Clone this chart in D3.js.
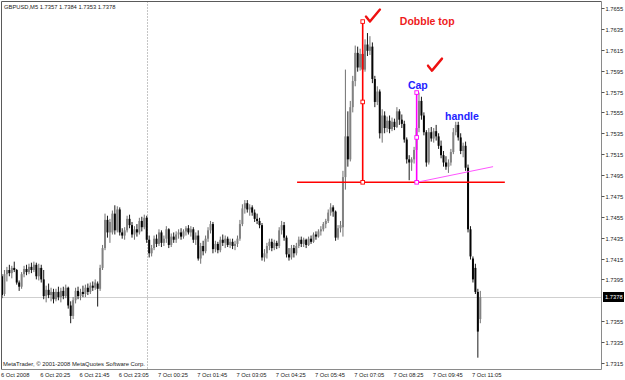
<!DOCTYPE html>
<html>
<head>
<meta charset="utf-8">
<script src="https://d3js.org/d3.v7.min.js"></script>
<style>
  body { margin: 0; background: #fff; }
  svg { display: block; }
</style>
</head>
<body>
<script>
// GBPUSD M5, 6 Oct 2008 19:05 .. 7 Oct 2008 11:20
const opens = [
  1.7398,1.7381,1.7400,1.7404,1.7401,1.7406,1.7404,1.7392,1.7388,1.7400,
  1.7405,1.7402,1.7407,1.7404,1.7409,1.7398,1.7406,1.7395,1.7379,1.7385,
  1.7380,1.7383,1.7376,1.7383,1.7378,1.7384,1.7379,1.7387,1.7370,1.7360,
  1.7375,1.7384,1.7379,1.7383,1.7381,1.7387,1.7383,1.7389,1.7387,1.7391,
  1.7386,1.7406,1.7425,1.7452,1.7440,1.7440,1.7458,1.7442,1.7462,1.7440,
  1.7437,1.7442,1.7453,1.7447,1.7438,1.7443,1.7440,1.7451,1.7445,1.7454,
  1.7433,1.7420,1.7425,1.7434,1.7429,1.7440,1.7430,1.7434,1.7443,1.7428,
  1.7436,1.7433,1.7438,1.7440,1.7436,1.7441,1.7444,1.7440,1.7443,1.7433,
  1.7437,1.7415,1.7427,1.7422,1.7434,1.7442,1.7448,1.7424,1.7429,1.7423,
  1.7433,1.7430,1.7434,1.7428,1.7431,1.7427,1.7429,1.7434,1.7448,1.7463,
  1.7468,1.7462,1.7464,1.7459,1.7453,1.7451,1.7447,1.7416,1.7420,1.7427,
  1.7431,1.7425,1.7430,1.7427,1.7442,1.7447,1.7435,1.7419,1.7416,1.7425,
  1.7420,1.7427,1.7433,1.7429,1.7433,1.7428,1.7434,1.7431,1.7438,1.7436,
  1.7441,1.7443,1.7448,1.7451,1.7459,1.7464,1.7460,1.7435,1.7444,1.7445,
  1.7493,1.7532,1.7510,1.7560,1.7585,1.7612,1.7598,1.7611,1.7596,1.7620,
  1.7614,1.7618,1.7587,1.7565,1.7575,1.7535,1.7552,1.7540,1.7547,1.7539,
  1.7546,1.7541,1.7556,1.7548,1.7544,1.7529,1.7510,1.7507,1.7510,1.7519,
  1.7540,1.7566,1.7552,1.7536,1.7507,1.7536,1.7530,1.7537,1.7532,1.7523,
  1.7514,1.7507,1.7503,1.7507,1.7517,1.7536,1.7543,1.7531,1.7518,1.7523,
  1.7502,1.7443,1.7415,1.7406,1.7383,1.7357]
const highs = [
  1.7400,1.7404,1.7407,1.7409,1.7408,1.7412,1.7405,1.7394,1.7402,1.7408,
  1.7409,1.7410,1.7411,1.7412,1.7411,1.7410,1.7409,1.7404,1.7389,1.7391,
  1.7387,1.7386,1.7386,1.7388,1.7387,1.7388,1.7390,1.7388,1.7374,1.7378,
  1.7387,1.7388,1.7386,1.7389,1.7390,1.7391,1.7392,1.7393,1.7395,1.7393,
  1.7409,1.7428,1.7458,1.7456,1.7453,1.7461,1.7466,1.7465,1.7464,1.7444,
  1.7445,1.7456,1.7457,1.7450,1.7446,1.7448,1.7454,1.7455,1.7457,1.7456,
  1.7437,1.7428,1.7437,1.7438,1.7443,1.7442,1.7437,1.7446,1.7444,1.7439,
  1.7440,1.7441,1.7443,1.7444,1.7443,1.7446,1.7447,1.7446,1.7445,1.7440,
  1.7442,1.7430,1.7432,1.7437,1.7445,1.7451,1.7450,1.7432,1.7431,1.7436,
  1.7438,1.7437,1.7436,1.7434,1.7434,1.7432,1.7437,1.7452,1.7467,1.7471,
  1.7471,1.7467,1.7466,1.7462,1.7458,1.7454,1.7449,1.7424,1.7430,1.7434,
  1.7434,1.7433,1.7432,1.7445,1.7451,1.7450,1.7437,1.7425,1.7428,1.7428,
  1.7430,1.7436,1.7436,1.7435,1.7434,1.7436,1.7437,1.7440,1.7441,1.7443,
  1.7446,1.7450,1.7453,1.7462,1.7468,1.7466,1.7461,1.7447,1.7451,1.7499,
  1.7596,1.7556,1.7566,1.7590,1.7619,1.7618,1.7616,1.7615,1.7625,1.7631,
  1.7628,1.7622,1.7590,1.7580,1.7577,1.7558,1.7556,1.7551,1.7552,1.7550,
  1.7549,1.7560,1.7558,1.7553,1.7547,1.7531,1.7514,1.7512,1.7522,1.7543,
  1.7574,1.7570,1.7555,1.7538,1.7540,1.7541,1.7540,1.7543,1.7535,1.7528,
  1.7518,1.7513,1.7510,1.7520,1.7540,1.7546,1.7546,1.7535,1.7526,1.7527,
  1.7505,1.7446,1.7417,1.7410,1.7386,1.7384]
const lows = [
  1.7377,1.7379,1.7393,1.7398,1.7396,1.7402,1.7390,1.7384,1.7386,1.7397,
  1.7399,1.7400,1.7401,1.7402,1.7395,1.7394,1.7392,1.7376,1.7373,1.7377,
  1.7374,1.7372,1.7374,1.7375,1.7373,1.7376,1.7377,1.7367,1.7353,1.7357,
  1.7372,1.7376,1.7375,1.7378,1.7378,1.7380,1.7381,1.7384,1.7385,1.7369,
  1.7384,1.7404,1.7423,1.7435,1.7430,1.7438,1.7438,1.7440,1.7437,1.7434,
  1.7433,1.7440,1.7444,1.7435,1.7433,1.7436,1.7438,1.7441,1.7443,1.7430,
  1.7416,1.7417,1.7423,1.7426,1.7427,1.7426,1.7427,1.7430,1.7425,1.7426,
  1.7430,1.7430,1.7434,1.7433,1.7434,1.7437,1.7438,1.7436,1.7430,1.7428,
  1.7413,1.7410,1.7418,1.7420,1.7431,1.7439,1.7420,1.7421,1.7420,1.7421,
  1.7427,1.7425,1.7426,1.7425,1.7424,1.7423,1.7426,1.7432,1.7446,1.7458,
  1.7459,1.7456,1.7456,1.7450,1.7448,1.7444,1.7413,1.7412,1.7415,1.7423,
  1.7422,1.7423,1.7424,1.7425,1.7438,1.7432,1.7416,1.7413,1.7414,1.7416,
  1.7418,1.7425,1.7426,1.7426,1.7425,1.7427,1.7429,1.7430,1.7433,1.7435,
  1.7437,1.7441,1.7444,1.7449,1.7456,1.7455,1.7432,1.7433,1.7440,1.7436,
  1.7481,1.7503,1.7508,1.7555,1.7580,1.7594,1.7595,1.7593,1.7594,1.7609,
  1.7610,1.7583,1.7560,1.7562,1.7530,1.7526,1.7535,1.7536,1.7535,1.7537,
  1.7538,1.7540,1.7543,1.7540,1.7526,1.7506,1.7490,1.7499,1.7506,1.7517,
  1.7536,1.7548,1.7533,1.7503,1.7505,1.7527,1.7526,1.7528,1.7520,1.7511,
  1.7503,1.7500,1.7497,1.7504,1.7515,1.7533,1.7528,1.7515,1.7512,1.7499,
  1.7440,1.7414,1.7392,1.7381,1.7320,1.7353]
const closes = [
  1.7380,1.7400,1.7404,1.7401,1.7406,1.7404,1.7392,1.7388,1.7400,1.7405,
  1.7402,1.7407,1.7404,1.7409,1.7398,1.7406,1.7395,1.7379,1.7385,1.7380,
  1.7383,1.7376,1.7383,1.7378,1.7384,1.7379,1.7387,1.7370,1.7360,1.7375,
  1.7384,1.7379,1.7383,1.7381,1.7387,1.7383,1.7389,1.7387,1.7392,1.7386,
  1.7406,1.7425,1.7452,1.7440,1.7450,1.7458,1.7442,1.7462,1.7440,1.7437,
  1.7442,1.7453,1.7447,1.7438,1.7443,1.7440,1.7451,1.7445,1.7454,1.7433,
  1.7420,1.7425,1.7434,1.7429,1.7440,1.7430,1.7434,1.7443,1.7428,1.7436,
  1.7433,1.7438,1.7440,1.7436,1.7441,1.7444,1.7440,1.7443,1.7433,1.7437,
  1.7415,1.7427,1.7422,1.7434,1.7442,1.7448,1.7424,1.7429,1.7423,1.7433,
  1.7430,1.7434,1.7428,1.7431,1.7427,1.7429,1.7434,1.7448,1.7463,1.7468,
  1.7462,1.7464,1.7459,1.7453,1.7451,1.7447,1.7416,1.7420,1.7427,1.7431,
  1.7425,1.7430,1.7427,1.7442,1.7447,1.7435,1.7419,1.7416,1.7425,1.7420,
  1.7427,1.7433,1.7429,1.7433,1.7428,1.7434,1.7431,1.7438,1.7436,1.7441,
  1.7443,1.7448,1.7451,1.7459,1.7464,1.7460,1.7435,1.7444,1.7447,1.7493,
  1.7532,1.7510,1.7560,1.7585,1.7612,1.7598,1.7611,1.7596,1.7620,1.7614,
  1.7618,1.7587,1.7565,1.7575,1.7535,1.7552,1.7540,1.7547,1.7539,1.7546,
  1.7541,1.7556,1.7548,1.7544,1.7529,1.7510,1.7507,1.7510,1.7519,1.7540,
  1.7566,1.7552,1.7536,1.7507,1.7536,1.7530,1.7537,1.7532,1.7523,1.7514,
  1.7507,1.7503,1.7507,1.7517,1.7536,1.7543,1.7531,1.7518,1.7523,1.7502,
  1.7443,1.7417,1.7395,1.7383,1.7345,1.7378]

const timeLabels = ["6 Oct 2008", "6 Oct 20:25", "6 Oct 21:45", "6 Oct 23:05", "7 Oct 00:25", "7 Oct 01:45",
  "7 Oct 03:05", "7 Oct 04:25", "7 Oct 05:45", "7 Oct 07:05", "7 Oct 08:25", "7 Oct 09:45", "7 Oct 11:05"]
const timeLabelBars = [0, 16, 32, 48, 64, 80, 96, 112, 128, 144, 160, 176, 192]
// 1.7375 is hidden behind the bid label, so it is left out
const priceTicks = [1.7315, 1.7335, 1.7355, 1.7395, 1.7415, 1.7435, 1.7455, 1.7475, 1.7495,
  1.7515, 1.7535, 1.7555, 1.7575, 1.7595, 1.7615, 1.7635, 1.7655]
const bidPrice = 1.7378
const daySeparatorBar = 59   // 7 Oct 00:00

// hand drawn objects (bar index, price)
const necklinePrice = 1.7488, necklineBars = [120.3, 205]
const topLeg = { bar: 147.05, prices: [1.7642, 1.7565, 1.7488] }
const capLeg = { bar: 169.05, prices: [1.7574, 1.7531, 1.7488] }
const handleTrend = [[169.05, 1.7488], [200.2, 1.7503]]
const checkMarks = [[150.0, 1.7642], [175.3, 1.7595]]
const notes = [
  { text: "Dobble top", bar: 162.2, price: 1.7639, color: "#ee1c1c" },
  { text: "Cap", bar: 165.5, price: 1.7577, color: "#2323ff" },
  { text: "handle", bar: 180.6, price: 1.7548, color: "#2323ff" }
]

const W = 625, H = 380
const plot = { left: 1.5, top: 1.5, right: 601.5, bottom: 369.5 }

const svg = d3.select("body").append("svg").attr("width", W).attr("height", H)
svg.append("rect").attr("width", W).attr("height", H).attr("fill", "#fff")

const x = d3.scaleLinear().domain([0, 244]).range([2, 600.5])
const y = d3.scaleLinear().domain([1.7315, 1.7655]).range([362.9, 8])

svg.append("clipPath").attr("id", "plotClip")
  .append("rect").attr("x", plot.left).attr("y", plot.top)
  .attr("width", plot.right - plot.left).attr("height", plot.bottom - plot.top)

const g = svg.append("g").attr("clip-path", "url(#plotClip)")

// day separator + bid line
g.append("line")
  .attr("x1", Math.round(x(daySeparatorBar)) + 0.5).attr("x2", Math.round(x(daySeparatorBar)) + 0.5)
  .attr("y1", plot.top).attr("y2", plot.bottom)
  .attr("stroke", "#8a8a8a").attr("stroke-dasharray", "1,2")
g.append("line")
  .attr("x1", plot.left).attr("x2", plot.right)
  .attr("y1", Math.round(y(bidPrice)) + 0.5).attr("y2", Math.round(y(bidPrice)) + 0.5)
  .attr("stroke", "#cfcfcf")

// candles
const bars = opens.map((o, i) => ({ i, o, h: highs[i], l: lows[i], c: closes[i] }))
const bullColor = "#828282", bearColor = "#050505"
const candle = g.append("g").selectAll("g").data(bars).join("g")
candle.append("line")
  .attr("x1", d => x(d.i)).attr("x2", d => x(d.i))
  .attr("y1", d => y(d.h)).attr("y2", d => y(d.l))
  .attr("stroke", d => d.c >= d.o ? "#707070" : "#1a1a1a")
  .attr("stroke-width", 1)
candle.append("rect")
  .attr("x", d => x(d.i) - 1).attr("width", 2)
  .attr("y", d => y(Math.max(d.o, d.c)))
  .attr("height", d => Math.max(1, Math.abs(y(d.o) - y(d.c))))
  .attr("fill", d => d.c >= d.o ? bullColor : bearColor)

// neckline
g.append("line")
  .attr("x1", x(necklineBars[0])).attr("x2", x(necklineBars[1]))
  .attr("y1", y(necklinePrice)).attr("y2", y(necklinePrice))
  .attr("stroke", "#ff0000").attr("stroke-width", 1.6)

// handle trend line
g.append("line")
  .attr("x1", x(handleTrend[0][0])).attr("y1", y(handleTrend[0][1]))
  .attr("x2", x(handleTrend[1][0])).attr("y2", y(handleTrend[1][1]))
  .attr("stroke", "#ff55ff").attr("stroke-width", 1)

const drawLeg = (leg, color) => {
  g.append("line")
    .attr("x1", x(leg.bar)).attr("x2", x(leg.bar))
    .attr("y1", y(leg.prices[0])).attr("y2", y(leg.prices[2]))
    .attr("stroke", color).attr("stroke-width", 1.6)
  g.selectAll(null).data(leg.prices).join("rect")
    .attr("x", x(leg.bar) - 1.8).attr("y", d => y(d) - 1.8)
    .attr("width", 3.6).attr("height", 3.6)
    .attr("fill", "#fff").attr("stroke", color).attr("stroke-width", 0.9)
}
drawLeg(topLeg, "#ff0000")
drawLeg(capLeg, "#ff00ff")

// check marks, anchored at their bottom vertex
g.selectAll(".check").data(checkMarks).join("path")
  .attr("class", "check")
  .attr("d", d => {
    const cx = x(d[0]), cy = y(d[1])
    return `M${cx - 4},${cy - 5} L${cx},${cy} L${cx + 10},${cy - 12}`
  })
  .attr("fill", "none").attr("stroke", "#ee1111").attr("stroke-width", 2.4)
  .attr("stroke-linecap", "round").attr("stroke-linejoin", "round")

g.selectAll(".note").data(notes).join("text")
  .attr("class", "note")
  .attr("x", d => x(d.bar)).attr("y", d => y(d.price))
  .attr("fill", d => d.color)
  .attr("font-family", "'Liberation Sans', Arial, sans-serif")
  .attr("font-weight", "bold").attr("font-size", "10.5px")
  .text(d => d.text)

// frame
svg.append("path")
  .attr("d", `M${plot.left},${plot.bottom} V${plot.top} H${plot.right}`)
  .attr("fill", "none").attr("stroke", "#5a5a5a")
svg.append("path")
  .attr("d", `M${plot.left},${plot.bottom} H${plot.right} V${plot.top}`)
  .attr("fill", "none").attr("stroke", "#8a8a8a")

const axisFont = "'Liberation Sans', Arial, sans-serif"

// price axis
const pTicks = svg.append("g").selectAll("g").data(priceTicks).join("g")
  .attr("transform", d => `translate(0,${Math.round(y(d)) + 0.5})`)
pTicks.append("line").attr("x1", plot.right).attr("x2", plot.right + 3).attr("stroke", "#555")
pTicks.append("text")
  .attr("x", 605.5).attr("dy", "0.35em")
  .attr("font-family", axisFont).attr("font-size", "5.8px").attr("fill", "#222")
  .text(d => d.toFixed(4))

// current bid label
const by = Math.round(y(bidPrice))
svg.append("rect").attr("x", 603).attr("y", by - 5).attr("width", 21).attr("height", 10).attr("fill", "#000")
svg.append("text").attr("x", 605).attr("y", by).attr("dy", "0.35em")
  .attr("font-family", axisFont).attr("font-size", "5.8px").attr("fill", "#fff")
  .text(bidPrice.toFixed(4))

// time axis
svg.append("g").selectAll("text").data(timeLabels).join("text")
  .attr("x", (d, k) => x(timeLabelBars[k]) - 1).attr("y", 376.5)
  .attr("font-family", axisFont).attr("font-size", "5.8px").attr("fill", "#222")
  .text(d => d)

// header and copyright
svg.append("text").attr("x", 4).attr("y", 8.5)
  .attr("font-family", axisFont).attr("font-size", "5.8px").attr("fill", "#222")
  .text(`GBPUSD,M5  ${opens[195].toFixed(4)} ${highs[195].toFixed(4)} ${lows[195].toFixed(4)} ${closes[195].toFixed(4)}`)
svg.append("text").attr("x", 3).attr("y", 366.3)
  .attr("font-family", axisFont).attr("font-size", "5.9px").attr("fill", "#222")
  .text("MetaTrader, © 2001-2008 MetaQuotes Software Corp.")
</script>
</body>
</html>
